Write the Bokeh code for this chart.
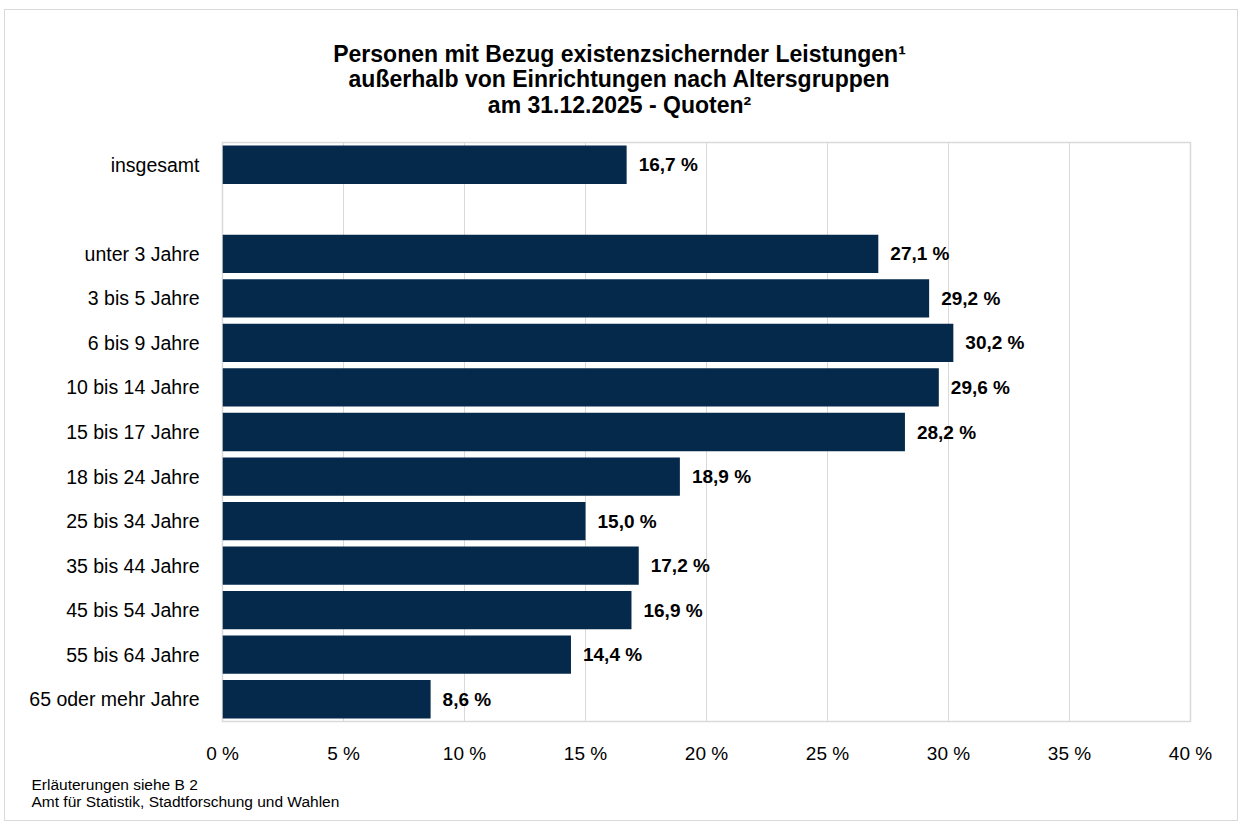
from bokeh.plotting import figure
from bokeh.layouts import column
from bokeh.models import ColumnDataSource, FactorRange, LabelSet, Title, PrintfTickFormatter, FixedTicker, Range1d
from bokeh.core.properties import value
from bokeh.embed import file_html
from bokeh.resources import INLINE

categories = ["insgesamt", "unter 3 Jahre", "3 bis 5 Jahre", "6 bis 9 Jahre", "10 bis 14 Jahre",
              "15 bis 17 Jahre", "18 bis 24 Jahre", "25 bis 34 Jahre", "35 bis 44 Jahre",
              "45 bis 54 Jahre", "55 bis 64 Jahre", "65 oder mehr Jahre"]
values = [16.7, 27.1, 29.2, 30.2, 29.6, 28.2, 18.9, 15.0, 17.2, 16.9, 14.4, 8.6]
x_ticks = [0, 5, 10, 15, 20, 25, 30, 35, 40]
title_lines = ["Personen mit Bezug existenzsichernder Leistungen\u00b9",
               "au\u00dferhalb von Einrichtungen nach Altersgruppen",
               "am 31.12.2025 - Quoten\u00b2"]
footnotes = ["Erl\u00e4uterungen siehe B 2", "Amt f\u00fcr Statistik, Stadtforschung und Wahlen"]

FONT = "Liberation Sans"
BAR = "#05294a"
W = 1232
H1 = 110
H2 = 700
FRAME_L, FRAME_R = 222, 1190   # page x of the main plot frame (title panel shares it)

# ---- title panel (x in page pixels, y in panel pixels from bottom) ----
t = figure(width=W, height=H1, x_range=Range1d(FRAME_L, FRAME_R), y_range=Range1d(0, H1),
           output_backend="svg", toolbar_location=None,
           min_border=0, min_border_left=0, min_border_right=0, min_border_top=0, min_border_bottom=0)
t.axis.visible = False
t.grid.visible = False
t.outline_line_color = None
tsrc = ColumnDataSource(dict(
    x=[619] * len(title_lines),
    y=[H1 - 43 - 25.5 * i for i in range(len(title_lines))],
    text=title_lines,
))
t.text(x="x", y="y", text="text", source=tsrc, text_align="center", text_baseline="middle",
       text_font=value(FONT), text_font_size="23px", text_font_style="bold", text_color="#000000")

# ---- main chart ----
factors = [categories[0], " "] + categories[1:]
y_range = FactorRange(*reversed(factors), range_padding=0)

source = ColumnDataSource(dict(
    cat=categories,
    val=values,
    txt=[("%.1f" % v).replace(".", ",") + " %" for v in values],
))

p = figure(width=W, height=H2, y_range=y_range, x_range=Range1d(0, 40),
           output_backend="svg", toolbar_location=None,
           min_border_left=217, min_border_right=47, min_border_top=22, min_border_bottom=99)

p.hbar(y="cat", right="val", left=0, height=0.86, source=source, color=BAR, line_color=None)

p.add_layout(LabelSet(x="val", y="cat", text="txt", source=source, x_offset=12,
                      text_baseline="middle", text_font=value(FONT), text_font_size="19px",
                      text_font_style="bold", text_color="#000000"))

p.outline_line_color = "#d9d9d9"
p.outline_line_width = 1.5
p.ygrid.grid_line_color = None
p.xgrid.grid_line_color = "#d9d9d9"
p.xgrid.ticker = FixedTicker(ticks=x_ticks)

p.xaxis.ticker = FixedTicker(ticks=x_ticks)
p.xaxis.formatter = PrintfTickFormatter(format="%d %%")
for ax in (p.xaxis[0], p.yaxis[0]):
    ax.axis_line_color = None
    ax.major_tick_line_color = None
    ax.minor_tick_line_color = None
    ax.major_label_text_font = FONT
    ax.major_label_text_color = "#000000"
p.xaxis.major_label_text_font_size = "19px"
p.yaxis.major_label_text_font_size = "19.5px"
p.xaxis.major_label_standoff = 15
p.yaxis.major_label_standoff = 17

p.add_layout(Title(text="\n".join(footnotes), align="left", offset=-191, text_font=FONT,
                   text_font_size="15.5px", text_font_style="normal", text_color="#000000",
                   standoff=14), "below")

layout = column(t, p, spacing=0)
layout.styles = {"border": "1px solid #d9d9d9", "margin-left": "4px", "margin-top": "9px"}

open("out.html", "w").write(file_html(layout, INLINE))
